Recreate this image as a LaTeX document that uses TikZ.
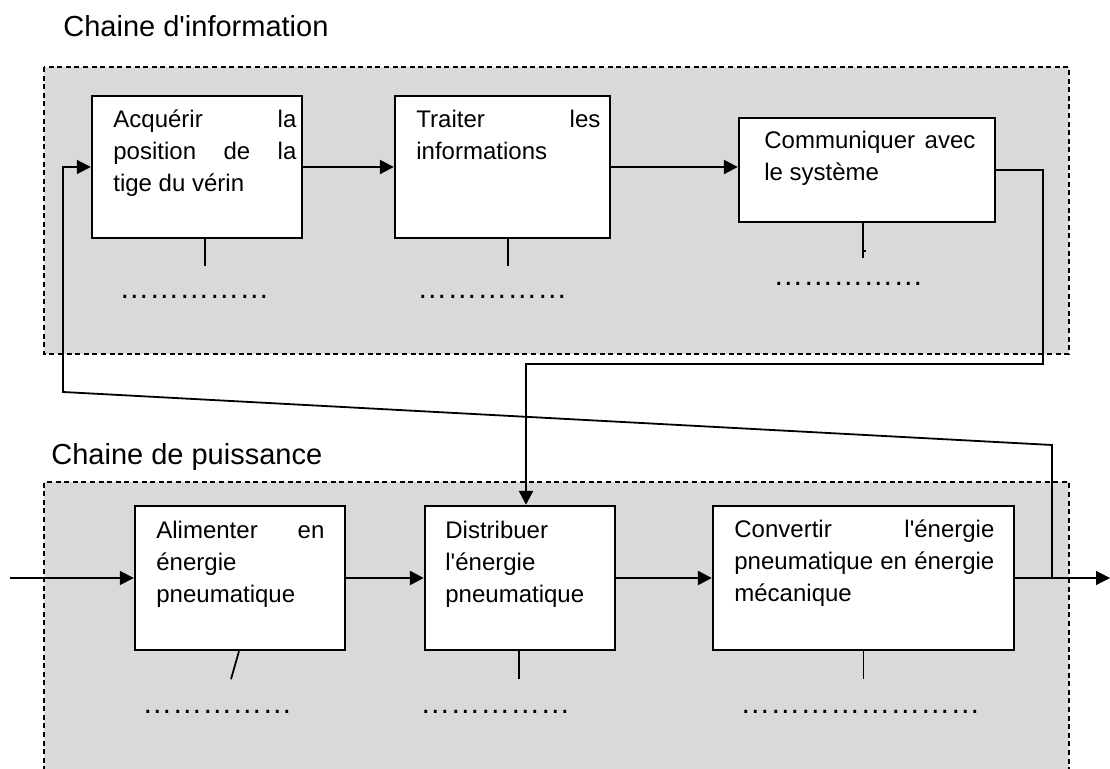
\documentclass[tikz,border=0pt]{standalone}
\usepackage{fontspec}
\setmainfont{Liberation Sans}[Ligatures=TeXOff]
\usetikzlibrary{arrows.meta}
\tolerance=10000
\hbadness=10000
\begin{document}
    \begin{tikzpicture}
        [x=0.5pt,y=-0.5pt,
        zone/.style={fill=gray!30},
        bord/.style={dash pattern=on 2.5pt off 1.8pt,line width=0.8pt},
        blk/.style={draw,line width=1.2pt,fill=white,inner sep=0pt},
        txt/.style={anchor=base west,inner sep=0pt,align=justify,font=\fontsize{12}{16}\selectfont},
        titre/.style={anchor=base west,inner sep=0pt,font=\fontsize{14.5}{17}\selectfont},
        pts/.style={anchor=base west,inner sep=0pt,font=\fontsize{15}{18}\selectfont},
        fleche/.style={line width=1.2pt,-{Triangle[length=7pt,width=7pt]}},
        retour/.style={line width=0.9pt,-{Triangle[length=7pt,width=7pt]}},
        trait/.style={line width=0.9pt}]
        \useasboundingbox (0,0) rectangle (1110,769);
        \fill[zone] (44,67) rectangle (1069,354);
        \draw[bord] (44,67) rectangle (1069,354);
        \fill[zone] (44,482) rectangle (1069,780);
        \draw[bord] (44,780) -- (44,482) -- (1069,482) -- (1069,780);
        \node[titre] (ci) at (63,37) {Chaine d'information};
        \node[titre] (cp) at (51,465) {Chaine de puissance};
        \node[blk,minimum width=105pt,minimum height=71pt] (acq) at (197,167) {};
        \node[blk,minimum width=107.5pt,minimum height=71pt] (trt) at (502.5,167) {};
        \node[blk,minimum width=128pt,minimum height=52pt] (comm) at (867,170) {};
        \node[blk,minimum width=105pt,minimum height=72pt] (alim) at (240,578) {};
        \node[blk,minimum width=95pt,minimum height=72pt] (dist) at (520,578) {};
        \node[blk,minimum width=150.5pt,minimum height=72pt] (conv) at (863.5,578) {};
        \node[txt,text width=91.5pt] (acq-t) at (113,128)
            {Acquérir la\linebreak position de la\linebreak tige du vérin};
        \node[txt,text width=92pt] (trt-t) at (416,128)
            {Traiter les\linebreak informations};
        \node[txt,text width=105.5pt] (comm-t) at (764,149)
            {Communiquer avec\linebreak le système};
        \node[txt,text width=84pt] (alim-t) at (156,539)
            {Alimenter en\linebreak énergie\linebreak pneumatique};
        \node[txt,text width=80pt] (dist-t) at (445,539)
            {Distribuer\linebreak l'énergie\linebreak pneumatique};
        \node[txt,text width=130pt] (conv-t) at (734,538)
            {Convertir l'énergie\linebreak pneumatique en énergie\linebreak mécanique};
        \node[pts] (acq-p) at (119,299) {……………};
        \node[pts] (trt-p) at (417,299) {……………};
        \node[pts] (comm-p) at (773,286) {……………};
        \node[pts] (alim-p) at (142,714) {……………};
        \node[pts] (dist-p) at (420,714) {……………};
        \node[pts] (conv-p) at (740,714) {……………………};
        \draw[trait] ([xshift=4pt]acq.south) -- ++(0,27);
        \draw[trait] ([xshift=2.75pt]trt.south) -- ++(0,27);
        \draw[trait] ([xshift=-2pt]comm.south) -- ++(0,35);
        \draw[trait] ([xshift=-2pt,yshift=-14pt]comm.south) -- ++(3,0);
        \draw[trait] ([xshift=-0.5pt]alim.south) -- ++(-8,28);
        \draw[trait] ([xshift=-0.5pt]dist.south) -- ++(0,28);
        \draw[trait] (conv.south) -- ++(0,28);
        \coordinate (r1) at (1043,364);
        \coordinate (entree) at (10,578);
        \coordinate (sortie) at (1110,578);
        \coordinate (b1) at (1052,578);
        \coordinate (b2) at (1052,445);
        \coordinate (b3) at (63,392);
        \draw[fleche] (acq) -- (trt);
        \draw[fleche] (trt.east) -- (trt.east -| comm.west);
        \draw[fleche] (comm.east) -| (r1) -| ([xshift=3pt]dist.north);
        \draw[retour] (entree) -- (alim);
        \draw[fleche] (alim) -- (dist);
        \draw[fleche] (dist) -- (conv);
        \draw[fleche,line width=0.6pt] (conv) -- (sortie);
        \draw[retour] (b1) -- (b2) -- (b3) |- (acq.west);
    \end{tikzpicture}
\end{document}
